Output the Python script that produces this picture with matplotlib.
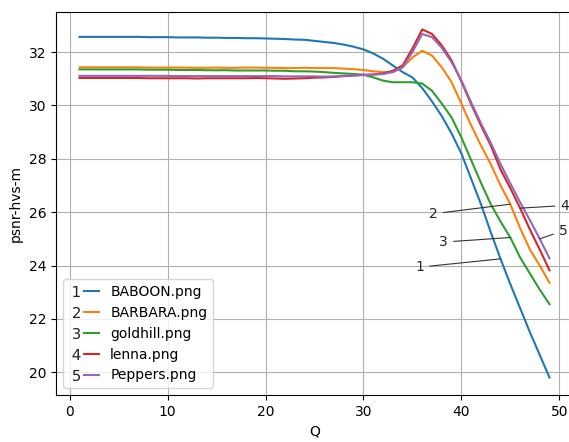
import matplotlib
matplotlib.use('Agg')
import matplotlib.pyplot as plt
from matplotlib.legend_handler import HandlerTuple
from matplotlib.lines import Line2D

Q = list(range(1, 50))

baboon = [32.57, 32.57, 32.57, 32.57, 32.57, 32.57, 32.57, 32.56, 32.56, 32.56,
          32.55, 32.55, 32.55, 32.54, 32.54, 32.53, 32.53, 32.52, 32.52, 32.51,
          32.50, 32.49, 32.47, 32.46, 32.42, 32.38, 32.34, 32.28, 32.20, 32.10,
          31.95, 31.75, 31.50, 31.25, 31.05, 30.65, 30.15, 29.60, 28.95, 28.20,
          27.25, 26.30, 25.25, 24.25, 23.30, 22.40, 21.50, 20.65, 19.80]
barbara = [31.43, 31.43, 31.43, 31.43, 31.43, 31.43, 31.43, 31.42, 31.42, 31.42,
           31.42, 31.42, 31.41, 31.41, 31.42, 31.41, 31.41, 31.42, 31.42, 31.41,
           31.41, 31.40, 31.40, 31.41, 31.40, 31.40, 31.40, 31.38, 31.36, 31.33,
           31.28, 31.25, 31.25, 31.43, 31.80, 32.05, 31.87, 31.43, 30.87, 30.07,
           29.25, 28.50, 27.80, 27.00, 26.30, 25.40, 24.60, 24.00, 23.35]
goldhill = [31.35, 31.35, 31.35, 31.35, 31.35, 31.35, 31.35, 31.34, 31.34, 31.34,
            31.33, 31.33, 31.33, 31.32, 31.32, 31.32, 31.31, 31.31, 31.31, 31.31,
            31.30, 31.30, 31.28, 31.28, 31.27, 31.25, 31.22, 31.20, 31.18, 31.15,
            31.05, 30.93, 30.87, 30.87, 30.87, 30.82, 30.55, 30.07, 29.55, 28.80,
            27.95, 27.10, 26.30, 25.65, 25.05, 24.30, 23.70, 23.10, 22.55]
lenna = [31.03, 31.03, 31.03, 31.03, 31.03, 31.03, 31.03, 31.02, 31.02, 31.02,
         31.02, 31.02, 31.01, 31.02, 31.02, 31.02, 31.02, 31.02, 31.03, 31.02,
         31.01, 31.00, 31.01, 31.02, 31.04, 31.05, 31.07, 31.10, 31.12, 31.15,
         31.16, 31.20, 31.30, 31.50, 32.13, 32.85, 32.68, 32.25, 31.69, 30.90,
         30.05, 29.25, 28.50, 27.60, 26.90, 26.15, 25.35, 24.60, 23.82]
peppers = [31.11, 31.11, 31.11, 31.11, 31.11, 31.11, 31.11, 31.11, 31.11, 31.11,
           31.10, 31.10, 31.10, 31.10, 31.10, 31.10, 31.10, 31.10, 31.10, 31.10,
           31.10, 31.09, 31.09, 31.09, 31.09, 31.08, 31.09, 31.11, 31.12, 31.14,
           31.15, 31.18, 31.25, 31.43, 32.00, 32.68, 32.56, 32.16, 31.62, 30.94,
           30.11, 29.33, 28.60, 27.80, 27.08, 26.37, 25.70, 25.00, 24.27]

names = ['BABOON.png', 'BARBARA.png', 'goldhill.png', 'lenna.png', 'Peppers.png']
series = [baboon, barbara, goldhill, lenna, peppers]

# number labels: text position, which Q they point at
label_text_xy = [(36.2, 23.94), (37.6, 25.94), (38.65, 24.88), (50.1, 26.25), (49.95, 25.3)]
label_tip_q = [44, 45, 45, 46, 48]

fig = plt.figure(figsize=(5.69, 4.42), dpi=100)
ax = fig.add_axes([56 / 569, 47 / 442, 517 / 569, 383 / 442])

lines = []
for name, vals in zip(names, series):
    l, = ax.plot(Q, vals, label=name)
    lines.append(l)

for i, vals in enumerate(series):
    q = label_tip_q[i]
    ax.annotate(str(i + 1), xy=(q, vals[q - 1]), xytext=label_text_xy[i],
                ha='right' if i < 3 else 'left', va='center', color='#262626',
                arrowprops=dict(arrowstyle='-', color='#333333', lw=0.8,
                                shrinkA=2, shrinkB=0),
                annotation_clip=False)

ax.grid(True)
ax.set_xlabel('Q')
ax.set_ylabel('psnr-hvs-m')

# legend handle = number + short line
num_marks = [Line2D([], [], linestyle='none', marker='$%d$' % (i + 1),
                    markersize=8, color='#262626', markeredgewidth=0)
             for i in range(len(lines))]
handles = [(m, l) for m, l in zip(num_marks, lines)]
ax.legend(handles, names, loc='lower left',
          handler_map={tuple: HandlerTuple(ndivide=2, pad=0.0)},
          handlelength=2.2)

fig.savefig('out.png', dpi=100)
